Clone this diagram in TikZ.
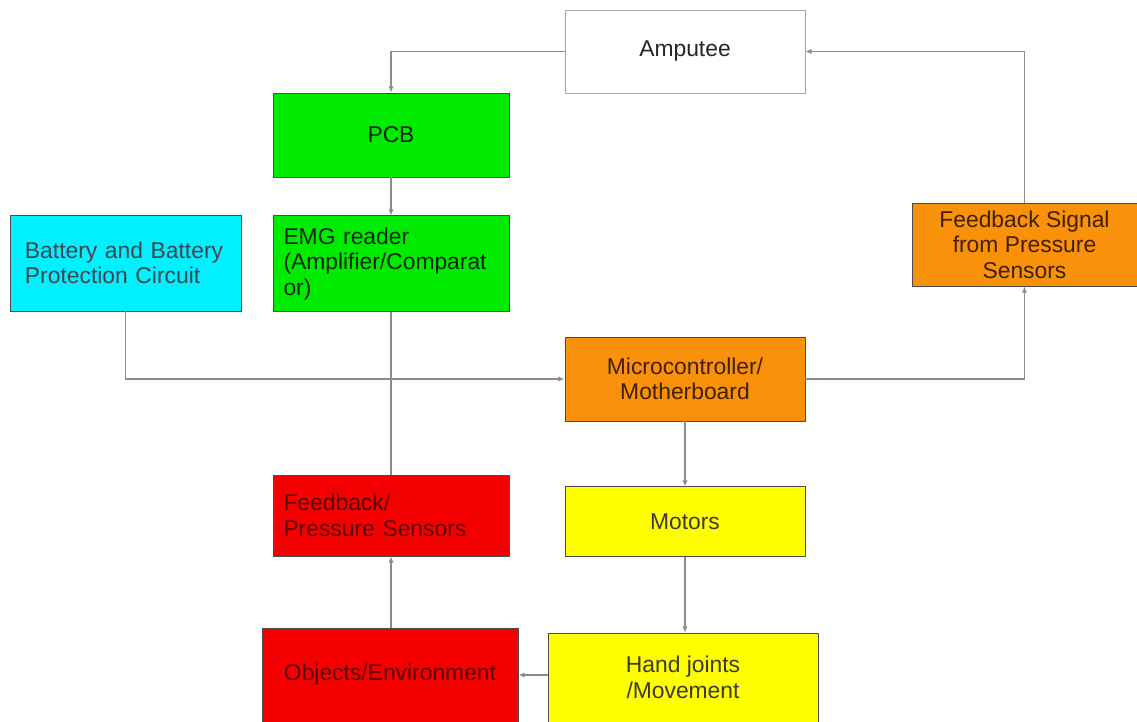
\documentclass[tikz,border=0pt]{standalone}
\usepackage{fontspec}
\setmainfont{Liberation Sans}
\usepackage{tikz}
\usetikzlibrary{arrows.meta,positioning,calc}
\definecolor{boxgreen}{RGB}{0,235,0}
\definecolor{boxcyan}{RGB}{0,240,255}
\definecolor{boxorange}{RGB}{250,145,10}
\definecolor{boxred}{RGB}{245,0,0}
\definecolor{boxyellow}{RGB}{255,255,0}
\definecolor{linegray}{RGB}{140,140,140}

\begin{document}
\begin{tikzpicture}[
  base/.style={draw=black!70, line width=0.5pt, inner sep=0pt,
               font=\fontsize{13}{14.5}\selectfont, align=center},
  wbox/.style={base, draw=gray!70, fill=white, text=black!85,
               minimum width=4.8cm, minimum height=1.66cm},
  gbox/.style={base, fill=boxgreen, text=green!15!black,
               minimum width=4.72cm, minimum height=1.68cm},
  cbox/.style={base, fill=boxcyan, text=cyan!20!black,
               minimum width=4.62cm, minimum height=1.92cm},
  obox/.style={base, fill=boxorange, text=orange!25!black,
               minimum width=4.8cm, minimum height=1.68cm},
  rbox/.style={base, fill=boxred, text=red!35!black,
               minimum width=4.72cm, minimum height=1.62cm},
  ybox/.style={base, fill=boxyellow, text=yellow!12!black,
               minimum width=4.8cm, minimum height=1.4cm},
  arr/.style={-{Latex[length=3.5pt,width=3pt]}, line width=0.6pt, color=linegray},
  wire/.style={line width=0.6pt, color=linegray}
]
  \useasboundingbox (0,0) rectangle (22.74,-14.44);

  % Eingang
  \node[wbox] (amp) at (13.70,-1.03) {Amputee};
  \node[gbox] (pcb) at (7.82,-2.70) {PCB};
  \node[gbox, minimum height=1.92cm, text width=4.3cm, align=left,
        below=0.76cm of pcb] (emg)
        {EMG reader\\(Amplifier/Comparat\\or)};

  % Versorgung
  \node[cbox, text width=4.02cm, align=left] (bat) at (2.51,-5.26)
        {Battery and Battery\\Protection Circuit};

  % Steuerung
  \node[obox] (mcu) at (13.70,-7.58) {Microcontroller/\\Motherboard};
  \node[obox, minimum width=4.5cm, minimum height=1.66cm] (fbs) at (20.49,-4.89)
        {Feedback Signal\\from Pressure\\Sensors};

  % Sensorik / Aktorik
  \node[rbox, text width=4.3cm, align=left] (fps) at (7.82,-10.31)
        {Feedback/\\Pressure Sensors};
  \node[ybox, below=1.3cm of mcu] (mot) {Motors};
  \node[ybox, minimum width=5.4cm, minimum height=1.78cm] (hnd) at (13.66,-13.55)
        {Hand joints\\/Movement};
  \node[rbox, minimum width=5.12cm, minimum height=1.88cm] (obj) at (7.80,-13.50)
        {Objects/Environment};

  % Verbindungen
  \draw[arr] (amp.west) -| (pcb.north);
  \draw[arr] (pcb) -- (emg);
  \draw[wire] (emg.south) -- (fps.north);
  \draw[arr] (bat.south) |- (mcu.west);
  \draw[arr] (mcu.east) -| (fbs.south);
  \draw[arr] (fbs.north) |- (amp.east);
  \draw[arr] (mcu) -- (mot);
  \draw[arr] (mot.south) -- (mot.south |- hnd.north);
  \draw[arr] (hnd.west |- obj.east) -- (obj.east);
  \draw[arr] (fps.south |- obj.north) -- (fps.south);
\end{tikzpicture}
\end{document}
